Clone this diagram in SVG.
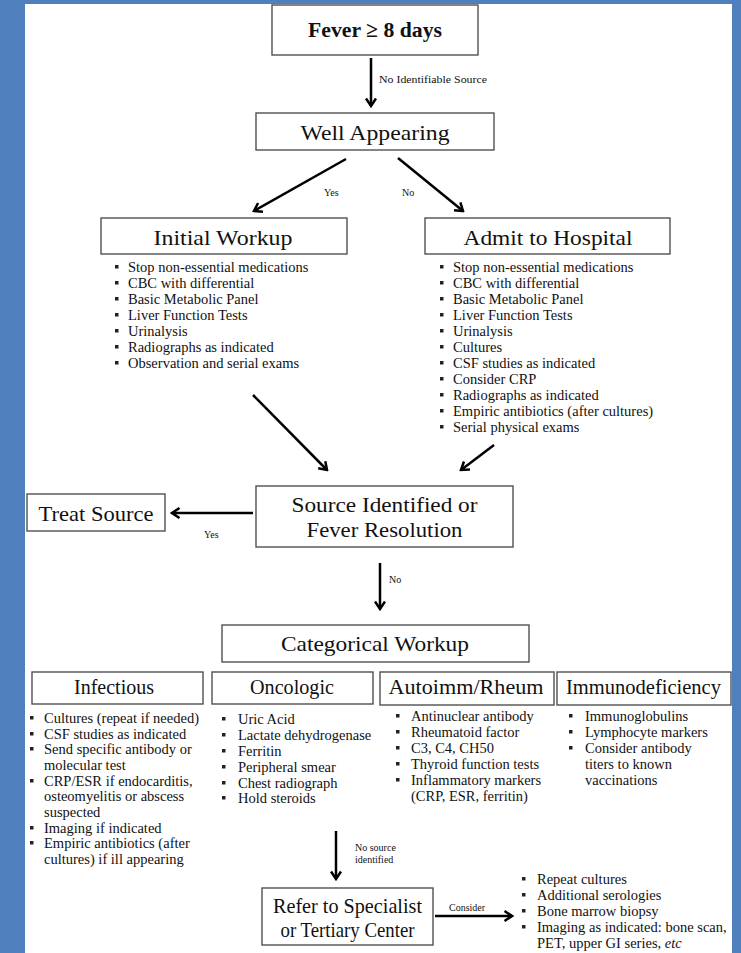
<svg xmlns="http://www.w3.org/2000/svg" width="741" height="953" viewBox="0 0 741 953">
<style>
text{font-family:'Liberation Serif','Times New Roman',serif;fill:#111}
.box{fill:#fff;stroke:#505050;stroke-width:1.4}
.h{font-size:22px;text-anchor:middle}
.sh{font-size:20px;text-anchor:middle}
.li{font-size:14.5px}
.lb{font-size:10px}
.b{fill:#222}
.ar{stroke:#000;stroke-width:2.5;fill:none;marker-end:url(#ah)}
</style>
<defs>
<marker id="ah" viewBox="0 0 12 12" refX="10" refY="6" markerWidth="12" markerHeight="12" markerUnits="userSpaceOnUse" orient="auto">
<path d="M2.5,1 L10,6 L2.5,11" fill="none" stroke="#000" stroke-width="2.5"/>
</marker>
<rect id="bu" width="3.5" height="3.5" class="b"/>
</defs>
<rect width="741" height="953" fill="#4f7fbd"/>
<rect x="25" y="4" width="707" height="949" fill="#fff"/>

<g id="connectors">
<line class="ar" x1="371" y1="58" x2="371" y2="106"/>
<line class="ar" x1="346" y1="159" x2="254" y2="211"/>
<line class="ar" x1="398" y1="158" x2="463" y2="211"/>
<line class="ar" x1="253" y1="395" x2="327" y2="470"/>
<line class="ar" x1="494" y1="445" x2="461" y2="470"/>
<line class="ar" x1="253" y1="513" x2="172" y2="513"/>
<line class="ar" x1="380" y1="563" x2="380" y2="609"/>
<line class="ar" x1="336" y1="831" x2="336" y2="879"/>
<line class="ar" x1="435" y1="916" x2="512" y2="916"/>
<text class="lb" x="379" y="83" textLength="108" lengthAdjust="spacingAndGlyphs">No Identifiable Source</text>
<text class="lb" x="324" y="196">Yes</text>
<text class="lb" x="402" y="196">No</text>
<text class="lb" x="204" y="538">Yes</text>
<text class="lb" x="389" y="583">No</text>
<text class="lb" x="355" y="851">No source</text>
<text class="lb" x="355" y="863">identified</text>
<text class="lb" x="449" y="911">Consider</text>
</g>

<g id="fever">
<rect class="box" x="272" y="5" width="206" height="50"/>
<text class="h" x="375" y="37" font-weight="bold" font-size="23" textLength="134" lengthAdjust="spacingAndGlyphs">Fever ≥ 8 days</text>
</g>

<g id="well">
<rect class="box" x="256" y="113" width="238" height="37"/>
<text class="h" x="375" y="140" textLength="149" lengthAdjust="spacingAndGlyphs">Well Appearing</text>
</g>

<g id="initial">
<rect class="box" x="101" y="218" width="246" height="36"/>
<text class="h" x="223" y="245" textLength="139" lengthAdjust="spacingAndGlyphs">Initial Workup</text>
<use href="#bu" x="115" y="265"/><text class="li" x="128" y="272">Stop non-essential medications</text>
<use href="#bu" x="115" y="281"/><text class="li" x="128" y="288">CBC with differential</text>
<use href="#bu" x="115" y="297"/><text class="li" x="128" y="304">Basic Metabolic Panel</text>
<use href="#bu" x="115" y="313"/><text class="li" x="128" y="320">Liver Function Tests</text>
<use href="#bu" x="115" y="329"/><text class="li" x="128" y="336">Urinalysis</text>
<use href="#bu" x="115" y="345"/><text class="li" x="128" y="352">Radiographs as indicated</text>
<use href="#bu" x="115" y="361"/><text class="li" x="128" y="368">Observation and serial exams</text>
</g>

<g id="admit">
<rect class="box" x="425" y="218" width="245" height="36"/>
<text class="h" x="548" y="245" textLength="169" lengthAdjust="spacingAndGlyphs">Admit to Hospital</text>
<use href="#bu" x="440" y="265"/><text class="li" x="453" y="272">Stop non-essential medications</text>
<use href="#bu" x="440" y="281"/><text class="li" x="453" y="288">CBC with differential</text>
<use href="#bu" x="440" y="297"/><text class="li" x="453" y="304">Basic Metabolic Panel</text>
<use href="#bu" x="440" y="313"/><text class="li" x="453" y="320">Liver Function Tests</text>
<use href="#bu" x="440" y="329"/><text class="li" x="453" y="336">Urinalysis</text>
<use href="#bu" x="440" y="345"/><text class="li" x="453" y="352">Cultures</text>
<use href="#bu" x="440" y="361"/><text class="li" x="453" y="368">CSF studies as indicated</text>
<use href="#bu" x="440" y="377"/><text class="li" x="453" y="384">Consider CRP</text>
<use href="#bu" x="440" y="393"/><text class="li" x="453" y="400">Radiographs as indicated</text>
<use href="#bu" x="440" y="409"/><text class="li" x="453" y="416">Empiric antibiotics (after cultures)</text>
<use href="#bu" x="440" y="425"/><text class="li" x="453" y="432">Serial physical exams</text>
</g>

<g id="source">
<rect class="box" x="256" y="486" width="257" height="61"/>
<text class="h" x="384.5" y="512" textLength="186" lengthAdjust="spacingAndGlyphs">Source Identified or</text>
<text class="h" x="384.5" y="537" textLength="156" lengthAdjust="spacingAndGlyphs">Fever Resolution</text>
</g>

<g id="treat">
<rect class="box" x="27" y="494" width="138" height="37"/>
<text class="h" x="96" y="521" font-size="23" textLength="115" lengthAdjust="spacingAndGlyphs">Treat Source</text>
</g>

<g id="categorical">
<rect class="box" x="222" y="625" width="307" height="37"/>
<text class="h" x="375" y="651" textLength="188" lengthAdjust="spacingAndGlyphs">Categorical Workup</text>
</g>

<g id="infectious">
<rect class="box" x="32" y="672" width="171" height="32"/>
<text class="sh" x="114" y="694" textLength="80" lengthAdjust="spacingAndGlyphs">Infectious</text>
<use href="#bu" x="30" y="716"/><text class="li" x="44" y="723">Cultures (repeat if needed)</text>
<use href="#bu" x="30" y="732"/><text class="li" x="44" y="739">CSF studies as indicated</text>
<use href="#bu" x="30" y="747"/><text class="li" x="44" y="754">Send specific antibody or</text>
<text class="li" x="44" y="770">molecular test</text>
<use href="#bu" x="30" y="779"/><text class="li" x="44" y="786">CRP/ESR if endocarditis,</text>
<text class="li" x="44" y="801">osteomyelitis or abscess</text>
<text class="li" x="44" y="817">suspected</text>
<use href="#bu" x="30" y="826"/><text class="li" x="44" y="833">Imaging if indicated</text>
<use href="#bu" x="30" y="841"/><text class="li" x="44" y="848">Empiric antibiotics (after</text>
<text class="li" x="44" y="864">cultures) if ill appearing</text>
</g>

<g id="oncologic">
<rect class="box" x="212" y="672" width="161" height="32"/>
<text class="sh" x="292" y="694" textLength="84" lengthAdjust="spacingAndGlyphs">Oncologic</text>
<use href="#bu" x="222" y="717"/><text class="li" x="238" y="724">Uric Acid</text>
<use href="#bu" x="222" y="733"/><text class="li" x="238" y="740">Lactate dehydrogenase</text>
<use href="#bu" x="222" y="749"/><text class="li" x="238" y="756">Ferritin</text>
<use href="#bu" x="222" y="765"/><text class="li" x="238" y="772">Peripheral smear</text>
<use href="#bu" x="222" y="781"/><text class="li" x="238" y="788">Chest radiograph</text>
<use href="#bu" x="222" y="796"/><text class="li" x="238" y="803">Hold steroids</text>
</g>

<g id="autoimm">
<rect class="box" x="380" y="672" width="174" height="33"/>
<text class="sh" x="466" y="694" textLength="155" lengthAdjust="spacingAndGlyphs">Autoimm/Rheum</text>
<use href="#bu" x="396" y="714"/><text class="li" x="411" y="721">Antinuclear antibody</text>
<use href="#bu" x="396" y="730"/><text class="li" x="411" y="737">Rheumatoid factor</text>
<use href="#bu" x="396" y="746"/><text class="li" x="411" y="753">C3, C4, CH50</text>
<use href="#bu" x="396" y="762"/><text class="li" x="411" y="769">Thyroid function tests</text>
<use href="#bu" x="396" y="778"/><text class="li" x="411" y="785">Inflammatory markers</text>
<text class="li" x="411" y="801">(CRP, ESR, ferritin)</text>
</g>

<g id="immuno">
<rect class="box" x="557" y="672" width="174" height="33"/>
<text class="sh" x="643.5" y="694" textLength="155" lengthAdjust="spacingAndGlyphs">Immunodeficiency</text>
<use href="#bu" x="569" y="714"/><text class="li" x="585" y="721">Immunoglobulins</text>
<use href="#bu" x="569" y="730"/><text class="li" x="585" y="737">Lymphocyte markers</text>
<use href="#bu" x="569" y="746"/><text class="li" x="585" y="753">Consider antibody</text>
<text class="li" x="585" y="769">titers to known</text>
<text class="li" x="585" y="785">vaccinations</text>
</g>

<g id="refer">
<rect class="box" x="262" y="888" width="171" height="57"/>
<text class="h" x="347.5" y="913" font-size="21" textLength="149" lengthAdjust="spacingAndGlyphs">Refer to Specialist</text>
<text class="h" x="347.5" y="937" font-size="21" textLength="134" lengthAdjust="spacingAndGlyphs">or Tertiary Center</text>
</g>

<g id="consider-list">
<use href="#bu" x="522" y="877"/><text class="li" x="537" y="884">Repeat cultures</text>
<use href="#bu" x="522" y="893"/><text class="li" x="537" y="900">Additional serologies</text>
<use href="#bu" x="522" y="909"/><text class="li" x="537" y="916">Bone marrow biopsy</text>
<use href="#bu" x="522" y="925"/><text class="li" x="537" y="932">Imaging as indicated: bone scan,</text>
<text class="li" x="537" y="948">PET, upper GI series, <tspan font-style="italic">etc</tspan></text>
</g>
</svg>
